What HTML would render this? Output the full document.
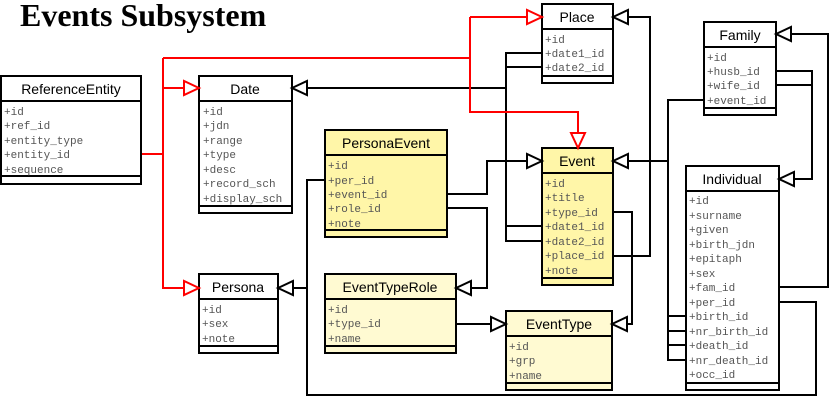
<!DOCTYPE html>
<html><head><meta charset="utf-8"><style>
body{margin:0;background:#fff}
svg{display:block}
.h{font-family:"Liberation Sans",sans-serif;font-size:14px;fill:#000;text-anchor:middle}
.r{font-family:"Liberation Mono",monospace;font-size:11px;fill:#555}
.bx{stroke:#000;stroke-width:2}
.k{stroke:#000;stroke-width:2;fill:none}
.rd{stroke:#f00;stroke-width:2;fill:none}
</style></head><body>
<svg width="832" height="402" viewBox="0 0 832 402">
<text x="20" y="26" font-family="Liberation Serif,serif" font-weight="bold" font-size="32">Events Subsystem</text>

<g class="k">
<polyline points="292,88 506,88"/>
<polyline points="542,53 506,53 506,241 542,241"/>
<polyline points="542,67 506,67"/>
<polyline points="506,226 542,226"/>
<polyline points="613,17 650,17 650,256 613,256"/>
<polyline points="613,161 668,161"/>
<polyline points="704,100 668,100 668,360 686,360"/>
<polyline points="668,316 686,316"/><polyline points="668,331 686,331"/><polyline points="668,345 686,345"/>
<polyline points="776,34 828,34 828,287 779,287"/>
<polyline points="776,71 812,71 812,179 779,179"/>
<polyline points="776,85 812,85"/>
<polyline points="779,302 816,302 816,395 307,395 307,180 325,180"/>
<polyline points="307,288 278,288"/>
<polyline points="447,194 487,194 487,161 542,161"/>
<polyline points="447,208 487,208 487,288 456,288"/>
<polyline points="456,324 506,324"/>
<polyline points="613,212 632,212 632,324 612,324"/>
</g>
<g class="rd">
<polyline points="141,154 163,154"/>
<polyline points="163,58 163,288 199,288"/>
<polyline points="163,88 199,88"/>
<polyline points="163,58 470,58"/>
<polyline points="470,17 470,112 578,112 578,148"/>
<polyline points="470,17 542,17"/>
</g>

<g font-size="0">
<rect class="bx" x="1" y="76" width="140" height="108" fill="#fff"/>
<line class="bx" x1="1" y1="101" x2="141" y2="101"/><line class="bx" x1="1" y1="176" x2="141" y2="176"/>
<text class="h" x="71" y="94">ReferenceEntity</text>
<text class="r" x="4" y="115">+id</text><text class="r" x="4" y="129">+ref_id</text><text class="r" x="4" y="144">+entity_type</text><text class="r" x="4" y="158">+entity_id</text><text class="r" x="4" y="173">+sequence</text>

<rect class="bx" x="199" y="76" width="93" height="137" fill="#fff"/>
<line class="bx" x1="199" y1="101" x2="292" y2="101"/><line class="bx" x1="199" y1="206" x2="292" y2="206"/>
<text class="h" x="245" y="94">Date</text>
<text class="r" x="203" y="115">+id</text><text class="r" x="203" y="129">+jdn</text><text class="r" x="203" y="144">+range</text><text class="r" x="203" y="158">+type</text><text class="r" x="203" y="173">+desc</text><text class="r" x="203" y="187">+record_sch</text><text class="r" x="203" y="202">+display_sch</text>

<rect class="bx" x="542" y="4" width="71" height="79" fill="#fff"/>
<line class="bx" x1="542" y1="29" x2="613" y2="29"/><line class="bx" x1="542" y1="76" x2="613" y2="76"/>
<text class="h" x="577" y="22">Place</text>
<text class="r" x="545" y="43">+id</text><text class="r" x="545" y="57">+date1_id</text><text class="r" x="545" y="71">+date2_id</text>

<rect class="bx" x="704" y="22" width="72" height="93" fill="#fff"/>
<line class="bx" x1="704" y1="47" x2="776" y2="47"/><line class="bx" x1="704" y1="108" x2="776" y2="108"/>
<text class="h" x="740" y="40">Family</text>
<text class="r" x="707" y="61">+id</text><text class="r" x="707" y="75">+husb_id</text><text class="r" x="707" y="89">+wife_id</text><text class="r" x="707" y="104">+event_id</text>

<rect class="bx" x="325" y="130" width="122" height="107" fill="#fff6a8"/>
<line class="bx" x1="325" y1="155" x2="447" y2="155"/><line class="bx" x1="325" y1="230" x2="447" y2="230"/>
<text class="h" x="386" y="148">PersonaEvent</text>
<text class="r" x="328" y="169">+id</text><text class="r" x="328" y="184">+per_id</text><text class="r" x="328" y="198">+event_id</text><text class="r" x="328" y="212">+role_id</text><text class="r" x="328" y="227">+note</text>

<rect class="bx" x="542" y="148" width="71" height="137" fill="#fff6a8"/>
<line class="bx" x1="542" y1="173" x2="613" y2="173"/><line class="bx" x1="542" y1="278" x2="613" y2="278"/>
<text class="h" x="577" y="166">Event</text>
<text class="r" x="545" y="187">+id</text><text class="r" x="545" y="201">+title</text><text class="r" x="545" y="216">+type_id</text><text class="r" x="545" y="230">+date1_id</text><text class="r" x="545" y="245">+date2_id</text><text class="r" x="545" y="259">+place_id</text><text class="r" x="545" y="274">+note</text>

<rect class="bx" x="686" y="166" width="93" height="224" fill="#fff"/>
<line class="bx" x1="686" y1="191" x2="779" y2="191"/><line class="bx" x1="686" y1="383" x2="779" y2="383"/>
<text class="h" x="732" y="184">Individual</text>
<text class="r" x="689" y="204">+id</text><text class="r" x="689" y="219">+surname</text><text class="r" x="689" y="233">+given</text><text class="r" x="689" y="248">+birth_jdn</text><text class="r" x="689" y="262">+epitaph</text><text class="r" x="689" y="277">+sex</text><text class="r" x="689" y="291">+fam_id</text><text class="r" x="689" y="306">+per_id</text><text class="r" x="689" y="320">+birth_id</text><text class="r" x="689" y="335">+nr_birth_id</text><text class="r" x="689" y="349">+death_id</text><text class="r" x="689" y="364">+nr_death_id</text><text class="r" x="689" y="378">+occ_id</text>

<rect class="bx" x="199" y="274" width="79" height="79" fill="#fff"/>
<line class="bx" x1="199" y1="299" x2="278" y2="299"/><line class="bx" x1="199" y1="346" x2="278" y2="346"/>
<text class="h" x="238" y="292">Persona</text>
<text class="r" x="202" y="313">+id</text><text class="r" x="202" y="327">+sex</text><text class="r" x="202" y="342">+note</text>

<rect class="bx" x="325" y="274" width="131" height="79" fill="#fffad2"/>
<line class="bx" x1="325" y1="299" x2="456" y2="299"/><line class="bx" x1="325" y1="346" x2="456" y2="346"/>
<text class="h" x="390" y="292">EventTypeRole</text>
<text class="r" x="328" y="313">+id</text><text class="r" x="328" y="327">+type_id</text><text class="r" x="328" y="342">+name</text>

<rect class="bx" x="506" y="311" width="106" height="79" fill="#fffad2"/>
<line class="bx" x1="506" y1="336" x2="612" y2="336"/><line class="bx" x1="506" y1="383" x2="612" y2="383"/>
<text class="h" x="559" y="329">EventType</text>
<text class="r" x="509" y="350">+id</text><text class="r" x="509" y="364">+grp</text><text class="r" x="509" y="379">+name</text>
</g>

<g stroke-width="2" fill="#fff">
<polygon stroke="#f00" points="199,88 184,81 184,95"/>
<polygon stroke="#f00" points="199,288 184,281 184,295"/>
<polygon stroke="#f00" points="542,17 527,10 527,24"/>
<polygon stroke="#f00" points="578,148 571,133 585,133"/>
<g stroke="#000">
<polygon points="292,88 307,81 307,95"/>
<polygon points="613,17 628,10 628,24"/>
<polygon points="542,161 527,154 527,168"/>
<polygon points="613,161 628,154 628,168"/>
<polygon points="776,34 791,27 791,41"/>
<polygon points="779,179 794,172 794,186"/>
<polygon points="278,288 293,281 293,295"/>
<polygon points="456,288 471,281 471,295"/>
<polygon points="506,324 491,317 491,331"/>
<polygon points="612,324 627,317 627,331"/>
</g></g>
</svg>
</body></html>
